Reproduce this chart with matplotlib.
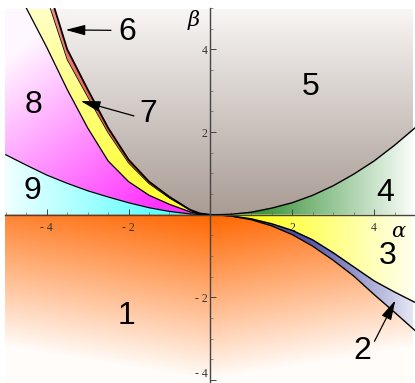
import matplotlib
matplotlib.use('Agg')
import matplotlib.pyplot as plt
import numpy as np

plt.rcParams['mathtext.fontset'] = 'dejavuserif'

a_green = [0, 0.25, 0.5, 1, 1.5, 2, 2.5, 3, 3.5, 4, 4.5, 5]
b_green = [0, 0.003, 0.01, 0.06, 0.16, 0.29, 0.47, 0.70, 0.98, 1.30, 1.68, 2.10]

a_low = [0, 0.25, 0.5, 1, 1.5, 2, 2.5, 3, 3.5, 4, 4.5, 5]
b_yellow3 = [0, -0.01, -0.03, -0.10, -0.22, -0.38, -0.61, -0.92, -1.26, -1.60, -1.87, -2.12]
b_blue2 = [0, -0.01, -0.03, -0.12, -0.27, -0.48, -0.76, -1.10, -1.48, -1.93, -2.36, -2.80]

a_gray = [-4, -3.5, -3, -2.5, -2, -1.5, -1, -0.5, -0.25, 0]
b_gray = [5.6, 4.0, 3.03, 2.10, 1.33, 0.80, 0.43, 0.12, 0.03, 0]
b_red = [5.25, 3.75, 2.85, 1.98, 1.25, 0.75, 0.40, 0.11, 0.025, 0]

a_left = [-5, -4.5, -4, -3.5, -3, -2.5, -2, -1.5, -1, -0.5, -0.25, 0]
b_yellow7 = [6.0, 5.0, 4.05, 3.03, 2.10, 1.30, 0.80, 0.47, 0.25, 0.07, 0.015, 0]
b_cyan = [1.45, 1.20, 0.96, 0.76, 0.58, 0.43, 0.29, 0.17, 0.08, 0.02, 0.005, 0]

region_names = ['1', '2', '3', '4', '5', '6', '7', '8', '9']
name_alpha = [-2.04, 3.72, 4.33, 4.27, 2.44, -2.04, -1.52, -4.32, -4.36]
name_beta = [-2.45, -3.30, -1.00, 0.52, 3.09, 4.41, 2.44, 2.66, 0.57]

xlo, xhi, ylo, yhi = -5.02, 4.93, -4.07, 4.96

fig = plt.figure(figsize=(4.15, 3.83), dpi=100)
ax = fig.add_axes([5 / 415, 0, 410 / 415, 375 / 383])

# colour field for the regions
nx, ny = 820, 750
xs = xlo + (np.arange(nx) + 0.5) * (xhi - xlo) / nx
ys = ylo + (np.arange(ny) + 0.5) * (yhi - ylo) / ny
A, B = np.meshgrid(xs, ys)

g_green = np.interp(A, a_green, b_green)
g3 = np.interp(A, a_low, b_yellow3)
g2 = np.interp(A, a_low, b_blue2)
g_gray = np.interp(A, a_gray, b_gray)
g_red = np.interp(A, a_gray, b_red)
g_y7 = np.interp(A, a_left, b_yellow7)
g_cy = np.interp(A, a_left, b_cyan)

up = B >= 0
right = A >= 0
masks = {
    '5': up & ((right & (B > g_green)) | (~right & (B > g_gray))),
    '4': up & right & (B <= g_green),
    '6': up & ~right & (B <= g_gray) & (B > g_red),
    '7': up & ~right & (B <= g_red) & (B > g_y7),
    '8': up & ~right & (B <= g_y7) & (B > g_cy),
    '9': up & ~right & (B <= g_cy),
    '3': ~up & right & (B > g3),
    '2': ~up & right & (B <= g3) & (B > g2),
    '1': ~up & (~right | (B <= g2)),
}

shading = {
    '5': ((0.66, 0.61, 0.58), (0.97, 0.96, 0.955), B / 4.9),
    '4': ((0.24, 0.58, 0.24), (0.99, 1.0, 0.99), (A - 1.2) / 3.8),
    '6': ((0.90, 0.15, 0.15), (0.96, 0.55, 0.55), B / 5),
    '7': ((1.0, 1.0, 0.15), (1.0, 1.0, 0.78), B / 5),
    '8': ((1.0, 0.2, 1.0), (1.0, 0.97, 1.0), (-0.6 * A + 0.8 * B - 1.0) / 5),
    '9': ((0.3, 1.0, 1.0), (0.94, 1.0, 1.0), (-A - 0.8) / 4.2),
    '3': ((1.0, 1.0, 0.1), (1.0, 1.0, 0.93), (A - 1.0) / 3.9),
    '2': ((0.30, 0.32, 0.66), (0.92, 0.92, 0.97), (A - 2.3) / 2.7),
    '1': ((1.0, 0.4, 0.0), (1.0, 0.99, 0.98), -B / 4.0 + 0.04 * np.abs(A)),
}

img = np.ones((ny, nx, 3))
for key, m in masks.items():
    c0, c1, t = shading[key]
    t = np.clip(t, 0, 1)[..., None]
    col = np.array(c0) * (1 - t) + np.array(c1) * t
    img[m] = col[m]

ax.imshow(img, extent=[xlo, xhi, ylo, yhi], origin='lower', aspect='auto',
          interpolation='bilinear', zorder=0)

# boundary lines
ax.plot(a_green, b_green, color='k', lw=1.0)
ax.plot(a_low, b_yellow3, color='k', lw=1.0)
ax.plot(a_low, b_blue2, color='k', lw=1.0)
ax.plot(a_gray, b_gray, color='k', lw=1.3)
ax.plot(a_gray, b_red, color='k', lw=0.6)
ax.plot(a_left, b_yellow7, color='k', lw=0.9)
ax.plot(a_left, b_cyan, color='k', lw=0.9)

ax.set_xlim(xlo, xhi)
ax.set_ylim(ylo, yhi)

# axes through the origin
for s in ['top', 'right']:
    ax.spines[s].set_visible(False)
ax.spines['left'].set_position(('data', 0))
ax.spines['bottom'].set_position(('data', 0))
for s in ['left', 'bottom']:
    ax.spines[s].set_color('#444444')
    ax.spines[s].set_linewidth(1.0)
    ax.spines[s].set_zorder(3)

ax.set_xticks([-4, -2, 2, 4])
ax.set_xticklabels(['- 4', '- 2', '2', '4'])
ax.set_yticks([-4, -2, 2, 4])
ax.set_yticklabels(['- 4', '- 2', '2', '4'])
ax.set_xticks(np.arange(-5, 5.01, 0.5), minor=True)
ax.set_yticks(np.arange(-4, 5.01, 0.5), minor=True)
ax.tick_params(which='major', direction='in', length=4, width=0.7,
               colors='#444444', labelsize=8.5, labelcolor='#333333')
ax.tick_params(which='minor', direction='in', length=2.2, width=0.5,
               colors='#666666')
ax.tick_params(axis='x', pad=5)
ax.tick_params(axis='y', pad=2)
for lab in ax.get_xticklabels() + ax.get_yticklabels():
    lab.set_family('Liberation Serif')
ax.get_yticklabels()[0].set_verticalalignment('bottom')

ax.text(4.61, -0.39, r'$\alpha$', fontsize=15, ha='center', va='center')
ax.text(-0.40, 4.72, r'$\beta$', fontsize=15, ha='center', va='center')

for name, x, y in zip(region_names, name_alpha, name_beta):
    ax.text(x, y, name, fontsize=23, ha='center', va='center',
            family='Liberation Sans', zorder=5)

arrow = dict(arrowstyle='-|>,head_length=1.2,head_width=0.32', color='k',
             lw=0.9, shrinkA=0, shrinkB=0)
ax.annotate('', xy=(-3.54, 4.47), xytext=(-2.43, 4.46), arrowprops=arrow)
ax.annotate('', xy=(-3.17, 2.75), xytext=(-1.87, 2.39), arrowprops=arrow)
ax.annotate('', xy=(4.52, -2.07), xytext=(4.01, -3.06), arrowprops=arrow)

fig.savefig('out.png', dpi=100)
